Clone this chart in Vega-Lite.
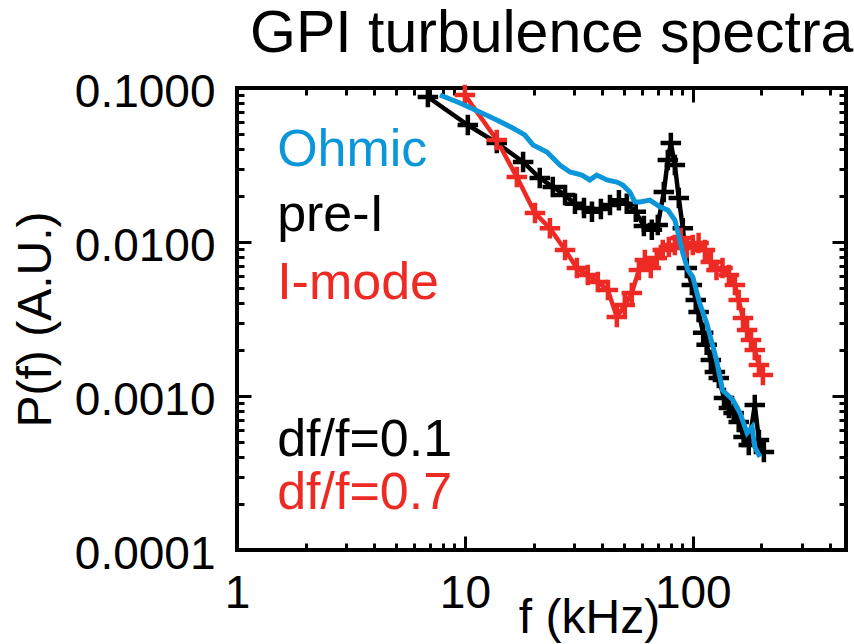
{
  "$schema": "https://vega.github.io/schema/vega-lite/v6.json",
  "width": 609,
  "height": 462,
  "autosize": {"type": "none"},
  "padding": {"left": 237, "top": 88, "right": 8, "bottom": 94},
  "title": {"text": "GPI turbulence spectra", "anchor": "start", "frame": "group", "dx": 13, "fontSize": 59, "fontWeight": "normal", "font": "Liberation Sans", "color": "black", "baseline": "alphabetic", "offset": -42},
  "config": {
    "font": "Liberation Sans",
    "view": {"stroke": "black", "strokeWidth": 4},
    "axis": {"grid": false, "domain": false, "tickColor": "black", "tickWidth": 3, "labelColor": "black", "titleColor": "black", "labelFontSize": 46, "titleFontSize": 48, "titleFontWeight": "normal", "labelFont": "Liberation Sans", "titleFont": "Liberation Sans"}
  },
  "datasets": {
    "spectra": [
      {"series": "pre-I", "f": 6.88, "p": 0.0874},
      {"series": "pre-I", "f": 10.3, "p": 0.0575},
      {"series": "pre-I", "f": 13.8, "p": 0.044},
      {"series": "pre-I", "f": 18.0, "p": 0.0331},
      {"series": "pre-I", "f": 21.3, "p": 0.026},
      {"series": "pre-I", "f": 24.3, "p": 0.0228},
      {"series": "pre-I", "f": 27.5, "p": 0.0202},
      {"series": "pre-I", "f": 30.4, "p": 0.0177},
      {"series": "pre-I", "f": 33.3, "p": 0.0166},
      {"series": "pre-I", "f": 36.1, "p": 0.0157},
      {"series": "pre-I", "f": 39.5, "p": 0.0164},
      {"series": "pre-I", "f": 43.3, "p": 0.0174},
      {"series": "pre-I", "f": 47.4, "p": 0.0187},
      {"series": "pre-I", "f": 51.3, "p": 0.0177},
      {"series": "pre-I", "f": 56.2, "p": 0.0157},
      {"series": "pre-I", "f": 61.0, "p": 0.0127},
      {"series": "pre-I", "f": 66.1, "p": 0.012},
      {"series": "pre-I", "f": 70.2, "p": 0.0129},
      {"series": "pre-I", "f": 74.6, "p": 0.0211},
      {"series": "pre-I", "f": 77.7, "p": 0.0341},
      {"series": "pre-I", "f": 80.1, "p": 0.044},
      {"series": "pre-I", "f": 83.4, "p": 0.0316},
      {"series": "pre-I", "f": 86.8, "p": 0.0193},
      {"series": "pre-I", "f": 90.4, "p": 0.0123},
      {"series": "pre-I", "f": 94.1, "p": 0.00678},
      {"series": "pre-I", "f": 99.0, "p": 0.00526},
      {"series": "pre-I", "f": 103, "p": 0.0042},
      {"series": "pre-I", "f": 106, "p": 0.00351},
      {"series": "pre-I", "f": 111, "p": 0.00257},
      {"series": "pre-I", "f": 115, "p": 0.00215},
      {"series": "pre-I", "f": 120, "p": 0.00171},
      {"series": "pre-I", "f": 125, "p": 0.00143},
      {"series": "pre-I", "f": 130, "p": 0.00131},
      {"series": "pre-I", "f": 137, "p": 0.00097},
      {"series": "pre-I", "f": 144, "p": 0.000836},
      {"series": "pre-I", "f": 151, "p": 0.000776},
      {"series": "pre-I", "f": 159, "p": 0.000678},
      {"series": "pre-I", "f": 167, "p": 0.000542},
      {"series": "pre-I", "f": 176, "p": 0.000481},
      {"series": "pre-I", "f": 187, "p": 0.000874},
      {"series": "pre-I", "f": 195, "p": 0.000518},
      {"series": "pre-I", "f": 205, "p": 0.000433},
      {"series": "I-mode", "f": 10.0, "p": 0.0901},
      {"series": "I-mode", "f": 13.8, "p": 0.046},
      {"series": "I-mode", "f": 16.9, "p": 0.0264},
      {"series": "I-mode", "f": 20.3, "p": 0.0154},
      {"series": "I-mode", "f": 23.6, "p": 0.0123},
      {"series": "I-mode", "f": 27.5, "p": 0.00887},
      {"series": "I-mode", "f": 31.0, "p": 0.00678},
      {"series": "I-mode", "f": 34.6, "p": 0.00611},
      {"series": "I-mode", "f": 38.3, "p": 0.0055},
      {"series": "I-mode", "f": 42.4, "p": 0.00488},
      {"series": "I-mode", "f": 46.4, "p": 0.00326},
      {"series": "I-mode", "f": 50.3, "p": 0.0039},
      {"series": "I-mode", "f": 54.0, "p": 0.00467},
      {"series": "I-mode", "f": 58.0, "p": 0.00658},
      {"series": "I-mode", "f": 61.6, "p": 0.00764},
      {"series": "I-mode", "f": 65.4, "p": 0.00678},
      {"series": "I-mode", "f": 69.5, "p": 0.00787},
      {"series": "I-mode", "f": 73.8, "p": 0.00887},
      {"series": "I-mode", "f": 78.5, "p": 0.00928},
      {"series": "I-mode", "f": 83.4, "p": 0.00956},
      {"series": "I-mode", "f": 88.5, "p": 0.0106},
      {"series": "I-mode", "f": 94.1, "p": 0.00914},
      {"series": "I-mode", "f": 100, "p": 0.00956},
      {"series": "I-mode", "f": 106, "p": 0.00985},
      {"series": "I-mode", "f": 113, "p": 0.00887},
      {"series": "I-mode", "f": 120, "p": 0.00741},
      {"series": "I-mode", "f": 127, "p": 0.00658},
      {"series": "I-mode", "f": 135, "p": 0.00678},
      {"series": "I-mode", "f": 144, "p": 0.00611},
      {"series": "I-mode", "f": 153, "p": 0.00526},
      {"series": "I-mode", "f": 159, "p": 0.0042},
      {"series": "I-mode", "f": 166, "p": 0.00321},
      {"series": "I-mode", "f": 173, "p": 0.00268},
      {"series": "I-mode", "f": 180, "p": 0.00231},
      {"series": "I-mode", "f": 187, "p": 0.00199},
      {"series": "I-mode", "f": 195, "p": 0.00159},
      {"series": "I-mode", "f": 203, "p": 0.00137},
      {"series": "Ohmic", "f": 7.77, "p": 0.0901},
      {"series": "Ohmic", "f": 9.51, "p": 0.0799},
      {"series": "Ohmic", "f": 11.6, "p": 0.0698},
      {"series": "Ohmic", "f": 13.8, "p": 0.062},
      {"series": "Ohmic", "f": 16.2, "p": 0.055},
      {"series": "Ohmic", "f": 18.3, "p": 0.0496},
      {"series": "Ohmic", "f": 19.9, "p": 0.0427},
      {"series": "Ohmic", "f": 22.9, "p": 0.0384},
      {"series": "Ohmic", "f": 26.1, "p": 0.0316},
      {"series": "Ohmic", "f": 28.9, "p": 0.0285},
      {"series": "Ohmic", "f": 32.6, "p": 0.0272},
      {"series": "Ohmic", "f": 35.3, "p": 0.0253},
      {"series": "Ohmic", "f": 37.9, "p": 0.0272},
      {"series": "Ohmic", "f": 42.0, "p": 0.0253},
      {"series": "Ohmic", "f": 46.4, "p": 0.0245},
      {"series": "Ohmic", "f": 49.3, "p": 0.0234},
      {"series": "Ohmic", "f": 52.9, "p": 0.0211},
      {"series": "Ohmic", "f": 55.7, "p": 0.0182},
      {"series": "Ohmic", "f": 58.6, "p": 0.0182},
      {"series": "Ohmic", "f": 64.8, "p": 0.0187},
      {"series": "Ohmic", "f": 71.7, "p": 0.0169},
      {"series": "Ohmic", "f": 77.7, "p": 0.0161},
      {"series": "Ohmic", "f": 83.4, "p": 0.0139},
      {"series": "Ohmic", "f": 86.0, "p": 0.0116},
      {"series": "Ohmic", "f": 90.4, "p": 0.00848},
      {"series": "Ohmic", "f": 95.1, "p": 0.00658},
      {"series": "Ohmic", "f": 100, "p": 0.00593},
      {"series": "Ohmic", "f": 107, "p": 0.00402},
      {"series": "Ohmic", "f": 115, "p": 0.00298},
      {"series": "Ohmic", "f": 127, "p": 0.00171},
      {"series": "Ohmic", "f": 135, "p": 0.00109},
      {"series": "Ohmic", "f": 150, "p": 0.000942},
      {"series": "Ohmic", "f": 161, "p": 0.000776},
      {"series": "Ohmic", "f": 173, "p": 0.000575},
      {"series": "Ohmic", "f": 182, "p": 0.000629},
      {"series": "Ohmic", "f": 187, "p": 0.000467},
      {"series": "Ohmic", "f": 197, "p": 0.000402}
    ],
    "notes": [
      {"label": "Ohmic", "series": "Ohmic", "f": 1.5, "p": 0.0395},
      {"label": "pre-I", "series": "pre-I", "f": 1.5, "p": 0.015},
      {"label": "I-mode", "series": "I-mode", "f": 1.5, "p": 0.00542},
      {"label": "df/f=0.1", "series": "pre-I", "f": 1.5, "p": 0.000518},
      {"label": "df/f=0.7", "series": "I-mode", "f": 1.5, "p": 0.000234}
    ]
  },
  "resolve": {"axis": {"x": "independent", "y": "independent"}},
  "layer": [
    {
      "data": {"name": "spectra"},
      "transform": [{"filter": "datum.series !== 'Ohmic'"}],
      "mark": {"type": "line", "strokeWidth": 4.5, "point": {"shape": "M-1,0L1,0M0,-1L0,1", "filled": false, "size": 420, "strokeWidth": 4.5, "opacity": 1}},
      "encoding": {
        "x": {"field": "f", "type": "quantitative", "scale": {"type": "log", "domain": [1, 470], "nice": false},
          "axis": {"orient": "bottom", "title": "f (kHz)", "values": [1,2,3,4,5,6,7,8,9,10,20,30,40,50,60,70,80,90,100,200,300,400], "format": "d",
            "labelExpr": "indexof([1,10,100], datum.value) >= 0 ? datum.label : ''",
            "tickSize": {"condition": {"test": "indexof([1,10,100], datum.value) >= 0", "value": -14}, "value": -7},
            "labelPadding": 71, "labelBaseline": "alphabetic", "labelFlush": false,
            "titleX": 352, "titleY": 82, "titleBaseline": "alphabetic", "titleAlign": "center"}},
        "y": {"field": "p", "type": "quantitative", "scale": {"type": "log", "domain": [0.0001, 0.1], "nice": false},
          "axis": {"orient": "left", "title": "P(f) (A.U.)", "values": [0.0001,0.0002,0.0003,0.0004,0.0005,0.0006,0.0007,0.0008,0.0009,0.001,0.002,0.003,0.004,0.005,0.006,0.007,0.008,0.009,0.01,0.02,0.03,0.04,0.05,0.06,0.07,0.08,0.09,0.1], "format": ".4f",
            "labelExpr": "indexof([0.0001,0.001,0.01,0.1], datum.value) >= 0 ? datum.label : ''",
            "tickSize": {"condition": {"test": "indexof([0.0001,0.001,0.01,0.1], datum.value) >= 0", "value": -14}, "value": -7},
            "labelPadding": 36, "labelFlush": false, "labelOffset": 4, "titlePadding": 14}},
        "color": {"field": "series", "type": "nominal", "scale": {"domain": ["Ohmic", "pre-I", "I-mode"], "range": ["#0a96d8", "#000000", "#ee2a24"]}, "legend": null},
        "detail": {"field": "series"}
      }
    },
    {
      "data": {"name": "spectra"},
      "transform": [{"filter": "datum.series === 'Ohmic'"}],
      "mark": {"type": "line", "strokeWidth": 5},
      "encoding": {
        "x": {"field": "f", "type": "quantitative", "scale": {"type": "log", "domain": [1, 470], "nice": false},
          "axis": {"orient": "top", "title": null, "labels": false, "values": [1,2,3,4,5,6,7,8,9,10,20,30,40,50,60,70,80,90,100,200,300,400],
            "tickSize": {"condition": {"test": "indexof([1,10,100], datum.value) >= 0", "value": -14}, "value": -7}}},
        "y": {"field": "p", "type": "quantitative", "scale": {"type": "log", "domain": [0.0001, 0.1], "nice": false},
          "axis": {"orient": "right", "title": null, "labels": false, "values": [0.0001,0.0002,0.0003,0.0004,0.0005,0.0006,0.0007,0.0008,0.0009,0.001,0.002,0.003,0.004,0.005,0.006,0.007,0.008,0.009,0.01,0.02,0.03,0.04,0.05,0.06,0.07,0.08,0.09,0.1],
            "tickSize": {"condition": {"test": "indexof([0.0001,0.001,0.01,0.1], datum.value) >= 0", "value": -14}, "value": -7}}},
        "color": {"field": "series", "type": "nominal", "scale": {"domain": ["Ohmic", "pre-I", "I-mode"], "range": ["#0a96d8", "#000000", "#ee2a24"]}, "legend": null}
      }
    },
    {
      "data": {"name": "notes"},
      "mark": {"type": "text", "align": "left", "baseline": "middle", "fontSize": 52, "font": "Liberation Sans"},
      "encoding": {
        "x": {"field": "f", "type": "quantitative", "scale": {"type": "log", "domain": [1, 470], "nice": false}, "axis": null},
        "y": {"field": "p", "type": "quantitative", "scale": {"type": "log", "domain": [0.0001, 0.1], "nice": false}, "axis": null},
        "text": {"field": "label"},
        "color": {"field": "series", "type": "nominal", "scale": {"domain": ["Ohmic", "pre-I", "I-mode"], "range": ["#0a96d8", "#000000", "#ee2a24"]}, "legend": null}
      }
    }
  ]
}
